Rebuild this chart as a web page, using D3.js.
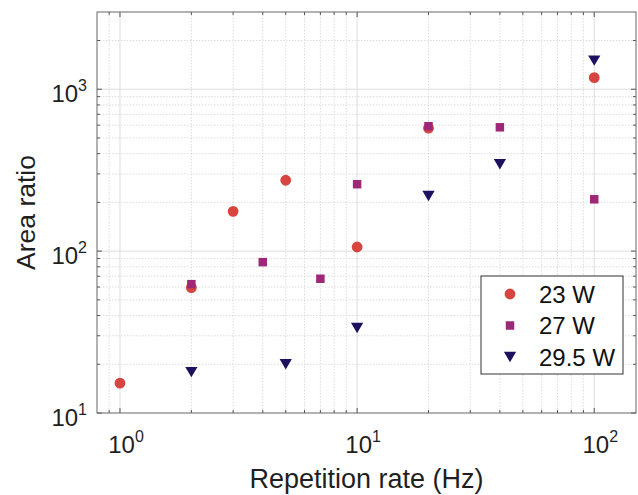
<!DOCTYPE html>
<html>
<head>
<meta charset="utf-8">
<script src="https://cdn.jsdelivr.net/npm/d3@7"></script>
<style>
  html, body { margin: 0; padding: 0; background: #fff; }
  svg { display: block; font-family: "Liberation Sans", Arial, Helvetica, sans-serif; }
</style>
</head>
<body>
<svg id="chart" width="638" height="495"></svg>
<script>
// ---- data ----
const series = ["23 W", "27 W", "29.5 W"];
const rate23 = [1, 2, 3, 5, 10, 20, 100];
const ratio23 = [15.3, 59.5, 176, 274, 106, 575, 1180];
const rate27 = [2, 4, 7, 10, 20, 40, 100];
const ratio27 = [62.5, 85.5, 67.5, 259, 591, 582, 209];
const rate295 = [2, 5, 10, 20, 40, 100];
const ratio295 = [17.9, 20.0, 33.5, 219, 344, 1504];
const xTickValues = [1, 10, 100];
const xTickExps = ["0", "1", "2"];
const yTickValues = [10, 100, 1000];
const yTickExps = ["1", "2", "3"];
const xDomain = [0.8, 150];
const yDomain = [10, 3000];

// ---- layout ----
const svg = d3.select("#chart");
const L = 97, R = 636, T = 12, B = 413;
const x = d3.scaleLog().domain(xDomain).range([L, R]);
const y = d3.scaleLog().domain(yDomain).range([B, T]);

const colors = ["#d6453f", "#9d2877", "#1e1060"];

// minor/major tick values
const xMinor = [];
[0.1, 1, 10, 100].forEach(d => { for (let k = 2; k <= 9; k++) { const v = d * k; if (v > xDomain[0] * 0.999 && v < xDomain[1]) xMinor.push(v); } });
const yMinor = [];
[10, 100, 1000].forEach(d => { for (let k = 2; k <= 9; k++) { const v = d * k; if (v <= yDomain[1] * 1.0001) yMinor.push(v); } });
const xMinorIn = xMinor.filter(v => v > xDomain[0] * 1.001);
const yMinorIn = yMinor.filter(v => v < yDomain[1] * 0.999);

// grid
const grid = svg.append("g");
grid.selectAll(".xmg").data(xMinorIn).enter().append("line")
  .attr("x1", d => x(d)).attr("x2", d => x(d)).attr("y1", T).attr("y2", B)
  .attr("stroke", "#d4d4d4").attr("stroke-width", 0.8).attr("stroke-dasharray", "1.5,1.5");
grid.selectAll(".ymg").data(yMinorIn).enter().append("line")
  .attr("y1", d => y(d)).attr("y2", d => y(d)).attr("x1", L).attr("x2", R)
  .attr("stroke", "#d4d4d4").attr("stroke-width", 0.8).attr("stroke-dasharray", "1.5,1.5");
grid.selectAll(".xg").data(xTickValues).enter().append("line")
  .attr("x1", d => x(d)).attr("x2", d => x(d)).attr("y1", T).attr("y2", B)
  .attr("stroke", "#dedede").attr("stroke-width", 1);
grid.selectAll(".yg").data(yTickValues.filter(v => v > yDomain[0])).enter().append("line")
  .attr("y1", d => y(d)).attr("y2", d => y(d)).attr("x1", L).attr("x2", R)
  .attr("stroke", "#dedede").attr("stroke-width", 1);

// ticks (inward, all four sides)
const tk = svg.append("g").attr("stroke", "#555").attr("stroke-width", 1);
const majLen = 5, minLen = 3;
xTickValues.forEach(v => {
  tk.append("line").attr("x1", x(v)).attr("x2", x(v)).attr("y1", B).attr("y2", B - majLen);
  tk.append("line").attr("x1", x(v)).attr("x2", x(v)).attr("y1", T).attr("y2", T + majLen);
});
xMinorIn.forEach(v => {
  tk.append("line").attr("x1", x(v)).attr("x2", x(v)).attr("y1", B).attr("y2", B - minLen);
  tk.append("line").attr("x1", x(v)).attr("x2", x(v)).attr("y1", T).attr("y2", T + minLen);
});
yTickValues.forEach(v => {
  tk.append("line").attr("y1", y(v)).attr("y2", y(v)).attr("x1", L).attr("x2", L + majLen);
  tk.append("line").attr("y1", y(v)).attr("y2", y(v)).attr("x1", R).attr("x2", R - majLen);
});
yMinorIn.forEach(v => {
  tk.append("line").attr("y1", y(v)).attr("y2", y(v)).attr("x1", L).attr("x2", L + minLen);
  tk.append("line").attr("y1", y(v)).attr("y2", y(v)).attr("x1", R).attr("x2", R - minLen);
});

// box
svg.append("rect").attr("x", L).attr("y", T).attr("width", R - L).attr("height", B - T)
  .attr("fill", "none").attr("stroke", "#666").attr("stroke-width", 1);

// tick labels
const lab = svg.append("g").attr("fill", "#1f1f1f");
xTickValues.forEach((v, i) => {
  const t = lab.append("text").attr("x", x(v) + 6).attr("y", B + 40)
    .attr("text-anchor", "middle").attr("font-size", 24);
  t.append("tspan").text("10");
  t.append("tspan").attr("dy", -11).attr("font-size", 16).text(xTickExps[i]);
});
yTickValues.forEach((v, i) => {
  const t = lab.append("text").attr("x", L - 10).attr("y", y(v) + 13)
    .attr("text-anchor", "end").attr("font-size", 24);
  t.append("tspan").text("10");
  t.append("tspan").attr("dy", -11).attr("font-size", 16).text(yTickExps[i]);
});

// axis titles
lab.append("text").attr("x", (L + R) / 2).attr("y", 488).attr("text-anchor", "middle")
  .attr("font-size", 27).text("Repetition rate (Hz)");
lab.append("text").attr("transform", `translate(35,${(T + B) / 2}) rotate(-90)`)
  .attr("text-anchor", "middle").attr("font-size", 26.5).text("Area ratio");

// markers
const triDown = { draw(ctx, size) { const w = Math.sqrt(size); ctx.moveTo(-w / 2, -w * 0.42); ctx.lineTo(w / 2, -w * 0.42); ctx.lineTo(0, w * 0.42); ctx.closePath(); } };
const symbols = [d3.symbolCircle, d3.symbolSquare, triDown];
const sizes = [92, 72, 150];
const datasets = [
  rate23.map((r, i) => [r, ratio23[i]]),
  rate27.map((r, i) => [r, ratio27[i]]),
  rate295.map((r, i) => [r, ratio295[i]])
];
datasets.forEach((ds, si) => {
  svg.append("g").selectAll("path").data(ds).enter().append("path")
    .attr("transform", d => `translate(${x(d[0])},${y(d[1])})`)
    .attr("d", d3.symbol(symbols[si], sizes[si]))
    .attr("fill", colors[si]);
});

// legend
const lg = svg.append("g");
lg.append("rect").attr("x", 481).attr("y", 276).attr("width", 142).attr("height", 98)
  .attr("fill", "#fff").attr("stroke", "#333").attr("stroke-width", 1);
series.forEach((s, i) => {
  const cy = 294 + i * 31.5;
  lg.append("path").attr("transform", `translate(510,${cy})`)
    .attr("d", d3.symbol(symbols[i], sizes[i])).attr("fill", colors[i]);
  lg.append("text").attr("x", 539).attr("y", cy + 8.5).attr("font-size", 24)
    .attr("fill", "#111").text(s);
});
</script>
</body>
</html>
